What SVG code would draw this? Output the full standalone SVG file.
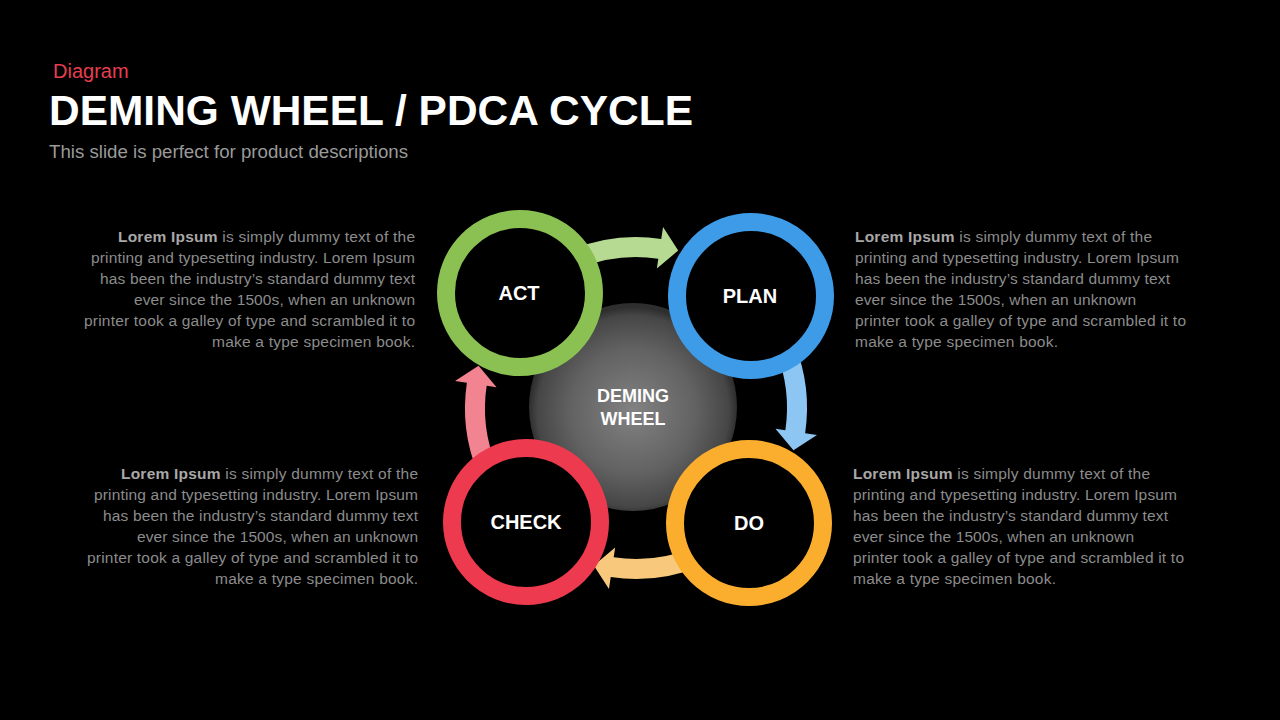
<svg xmlns="http://www.w3.org/2000/svg" width="1280" height="720" viewBox="0 0 1280 720">
<defs>
<radialGradient id="sphere" cx="50%" cy="52%" r="50%">
<stop offset="0" stop-color="#828282"/>
<stop offset="0.6" stop-color="#626262"/>
<stop offset="0.92" stop-color="#464646"/>
<stop offset="1" stop-color="#2e2e2e"/>
</radialGradient>
<path id="arr" d="M-64.06,-158.55 A171,171 0 0 1 25.28,-169.12 L27.05,-180.99 L42.19,-157.45 L20.84,-139.45 L22.32,-149.34 A151,151 0 0 0 -56.57,-140.00 Z"/>
</defs>
<style>
.ff{font-family:"Liberation Sans",Arial,sans-serif}
.ring{fill:#000;stroke-width:18}
.lbl{font-family:"Liberation Sans",Arial,sans-serif;font-weight:bold;fill:#fff;text-anchor:middle;font-size:20px}
.body{font-family:"Liberation Sans",Arial,sans-serif;font-size:15.5px;fill:#8c8c8c}
.body .b{font-weight:bold;fill:#a8a8a8}
.r{text-anchor:end}
</style>
<rect width="1280" height="720" fill="#000"/>
<g id="header">
<text x="53" y="78" class="ff" font-size="20" fill="#e63e4f">Diagram</text>
<text x="49" y="125" class="ff" font-size="42" font-weight="bold" fill="#fff" textLength="644" lengthAdjust="spacingAndGlyphs">DEMING WHEEL / PDCA CYCLE</text>
<text x="49" y="158" class="ff" font-size="18" fill="#9a9a9a" textLength="359" lengthAdjust="spacingAndGlyphs">This slide is perfect for product descriptions</text>
</g>
<g id="center">
<circle cx="633" cy="407" r="104" fill="url(#sphere)"/>
<text x="633" y="402" class="lbl" style="font-size:18px" fill="#f0f0f0">DEMING</text>
<text x="633" y="425" class="lbl" style="font-size:18px">WHEEL</text>
</g>
<g id="connectors">
<use href="#arr" transform="translate(636,408)" fill="#b6da92"/>
<use href="#arr" transform="translate(636,408) rotate(90)" fill="#8dc5f3"/>
<use href="#arr" transform="translate(636,408) rotate(180)" fill="#f8c97c"/>
<use href="#arr" transform="translate(636,408) rotate(270)" fill="#f28390"/>
</g>
<g id="act">
<circle cx="520" cy="293" r="74" class="ring" stroke="#8bc152"/>
<text x="519" y="300" class="lbl">ACT</text>
</g>
<g id="plan">
<circle cx="751" cy="296" r="74" class="ring" stroke="#3e9be8"/>
<text x="750" y="303" class="lbl">PLAN</text>
</g>
<g id="do">
<circle cx="749" cy="523" r="74" class="ring" stroke="#fbae2e"/>
<text x="749" y="530" class="lbl">DO</text>
</g>
<g id="check">
<circle cx="526" cy="522" r="74" class="ring" stroke="#ee3a4e"/>
<text x="526" y="529" class="lbl">CHECK</text>
</g>
<g id="text-act" class="body r">
<text x="415" y="242" textLength="297" lengthAdjust="spacing"><tspan class="b">Lorem Ipsum</tspan> is simply dummy text of the</text>
<text x="415" y="263" textLength="324" lengthAdjust="spacing">printing and typesetting industry.  Lorem Ipsum</text>
<text x="415" y="284" textLength="315" lengthAdjust="spacing">has been the industry’s standard dummy text</text>
<text x="415" y="305" textLength="281" lengthAdjust="spacing">ever since the 1500s, when an unknown</text>
<text x="415" y="326" textLength="331" lengthAdjust="spacing">printer took a galley of type and scrambled it to</text>
<text x="415" y="347" textLength="203" lengthAdjust="spacing">make a type specimen book.</text>
</g>
<g id="text-check" class="body r">
<text x="418" y="479" textLength="297" lengthAdjust="spacing"><tspan class="b">Lorem Ipsum</tspan> is simply dummy text of the</text>
<text x="418" y="500" textLength="324" lengthAdjust="spacing">printing and typesetting industry.  Lorem Ipsum</text>
<text x="418" y="521" textLength="315" lengthAdjust="spacing">has been the industry’s standard dummy text</text>
<text x="418" y="542" textLength="281" lengthAdjust="spacing">ever since the 1500s, when an unknown</text>
<text x="418" y="563" textLength="331" lengthAdjust="spacing">printer took a galley of type and scrambled it to</text>
<text x="418" y="584" textLength="203" lengthAdjust="spacing">make a type specimen book.</text>
</g>
<g id="text-plan" class="body">
<text x="855" y="242" textLength="297" lengthAdjust="spacing"><tspan class="b">Lorem Ipsum</tspan> is simply dummy text of the</text>
<text x="855" y="263" textLength="324" lengthAdjust="spacing">printing and typesetting industry.  Lorem Ipsum</text>
<text x="855" y="284" textLength="315" lengthAdjust="spacing">has been the industry’s standard dummy text</text>
<text x="855" y="305" textLength="281" lengthAdjust="spacing">ever since the 1500s, when an unknown</text>
<text x="855" y="326" textLength="331" lengthAdjust="spacing">printer took a galley of type and scrambled it to</text>
<text x="855" y="347" textLength="203" lengthAdjust="spacing">make a type specimen book.</text>
</g>
<g id="text-do" class="body">
<text x="853" y="479" textLength="297" lengthAdjust="spacing"><tspan class="b">Lorem Ipsum</tspan> is simply dummy text of the</text>
<text x="853" y="500" textLength="324" lengthAdjust="spacing">printing and typesetting industry.  Lorem Ipsum</text>
<text x="853" y="521" textLength="315" lengthAdjust="spacing">has been the industry’s standard dummy text</text>
<text x="853" y="542" textLength="281" lengthAdjust="spacing">ever since the 1500s, when an unknown</text>
<text x="853" y="563" textLength="331" lengthAdjust="spacing">printer took a galley of type and scrambled it to</text>
<text x="853" y="584" textLength="203" lengthAdjust="spacing">make a type specimen book.</text>
</g>
</svg>
